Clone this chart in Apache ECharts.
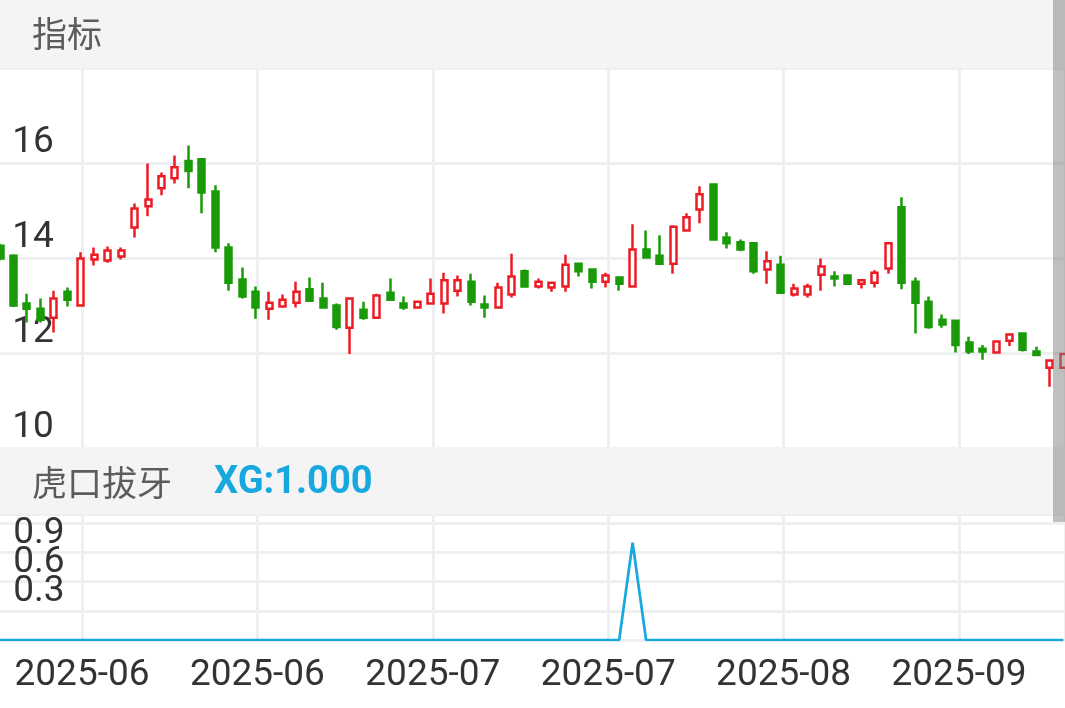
<!DOCTYPE html>
<html><head><meta charset="utf-8">
<script src="https://cdn.jsdelivr.net/npm/echarts@6/dist/echarts.min.js"></script>
<style>html,body{margin:0;padding:0;background:#fff}#c{width:1065px;height:708px}</style>
</head><body><div id="c"></div>
<script>
const openPrices = [14.26,14.05,13.04,12.93,12.74,13.29,13.00,13.97,13.95,14.03,
  14.64,15.09,15.47,15.68,16.04,16.08,15.40,14.22,13.55,13.29,
  12.93,12.98,13.06,13.34,13.15,13.00,12.53,12.91,12.74,13.27,
  13.04,12.96,13.04,13.04,13.31,13.50,13.02,12.96,13.23,13.72,
  13.40,13.38,13.40,13.88,13.76,13.50,13.59,13.40,14.18,14.05,
  13.88,14.58,15.02,15.55,14.43,14.33,14.31,13.76,13.86,13.23,
  13.23,13.65,13.61,13.63,13.46,13.48,13.78,15.07,13.50,13.08,
  12.70,12.68,12.22,12.09,12.01,12.26,12.41,12.03,11.69,11.69];
const closePrices = [13.99,13.00,12.93,12.70,13.15,13.12,13.99,14.07,14.16,14.16,
  15.04,15.23,15.72,15.91,15.83,15.38,14.22,13.48,13.19,12.96,
  13.06,13.12,13.29,13.10,12.96,12.55,13.15,12.74,13.21,13.12,
  12.96,13.08,13.25,13.53,13.53,13.08,12.96,13.38,13.61,13.40,
  13.50,13.48,13.86,13.72,13.50,13.63,13.46,14.18,14.01,13.88,
  14.66,14.86,15.34,14.39,14.31,14.18,13.72,13.93,13.27,13.36,
  13.40,13.82,13.57,13.46,13.53,13.69,14.31,13.48,13.06,12.55,
  12.60,12.17,12.03,12.03,12.24,12.39,12.07,11.96,11.84,11.98];
const lowPrices = [13.95,12.97,12.64,12.64,12.43,12.98,13.00,13.84,13.90,13.97,
  14.43,14.88,15.32,15.57,15.47,14.94,14.12,13.31,13.15,12.72,
  12.70,12.98,12.96,13.08,12.96,12.49,11.98,12.70,12.74,13.10,
  12.91,12.93,13.04,12.83,13.19,13.00,12.74,12.93,13.17,13.38,
  13.36,13.29,13.29,13.61,13.36,13.38,13.31,13.40,14.01,13.88,
  13.67,14.56,14.73,14.39,14.20,14.14,13.67,13.46,13.27,13.19,
  13.17,13.31,13.40,13.46,13.36,13.38,13.67,13.34,12.41,12.51,
  12.53,12.01,11.98,11.86,12.01,12.15,12.03,11.94,11.29,11.69];
const highPrices = [14.30,14.08,13.25,13.15,13.31,13.38,14.12,14.22,14.24,14.22,
  15.15,15.99,15.80,16.16,16.37,16.08,15.53,14.31,13.80,13.40,
  13.29,13.23,13.50,13.59,13.48,13.04,13.15,13.08,13.25,13.57,
  13.19,13.10,13.57,13.69,13.63,13.67,13.21,13.48,14.09,13.76,
  13.57,13.50,14.07,13.88,13.78,13.69,13.59,14.71,14.58,14.48,
  14.69,14.94,15.51,15.55,14.54,14.39,14.31,14.14,14.05,13.46,
  13.46,13.99,13.72,13.65,13.53,13.74,14.31,15.28,13.59,13.19,
  12.81,12.68,12.34,12.17,12.24,12.39,12.41,12.13,11.84,11.98];
const xgValues = [0,0,0,0,0,0,0,0,0,0, 0,0,0,0,0,0,0,0,0,0,
  0,0,0,0,0,0,0,0,0,0, 0,0,0,0,0,0,0,0,0,0,
  0,0,0,0,0,0,0,1,0,0, 0,0,0,0,0,0,0,0,0,0,
  0,0,0,0,0,0,0,0,0,0, 0,0,0,0,0,0,0,0,0,0];
const xTickLabels = ['2025-06','2025-06','2025-07','2025-07','2025-08','2025-09'];
const mainTitle = '指标';
const subTitle = '虎口拔牙';
const xgLabel = 'XG:1.000';

const RED = '#ec1c24', GREEN = '#1a9a08', BLUE = '#17a8e0', GRIDC = '#eeeff1';
const N = openPrices.length;
const categories = openPrices.map((_, i) => String(i));
const kData = openPrices.map((o, i) => [o, closePrices[i], lowPrices[i], highPrices[i]]);
const STEP = 13.46;
const gLeft = -STEP / 2, gWidth = STEP * N;
const COL = 175.4;
const colLeft = 82, colWidth = 1065 - colLeft;
const lab = { fontFamily: 'Roboto', fontSize: 37, color: '#333' };
const split = { show: true, lineStyle: { color: GRIDC, width: 3 } };

const chart = echarts.init(document.getElementById('c'));
chart.setOption({
  animation: false,
  backgroundColor: '#fff',
  grid: [
    { left: gLeft, width: gWidth, top: 68, height: 380, outerBoundsMode: 'none', containLabel: false },
    { left: gLeft, width: gWidth, top: 514, height: 126, outerBoundsMode: 'none', containLabel: false },
    { left: colLeft, width: colWidth, top: 68, height: 380, outerBoundsMode: 'none', containLabel: false },
    { left: colLeft, width: colWidth, top: 514, height: 126, outerBoundsMode: 'none', containLabel: false }
  ],
  xAxis: [
    { type: 'category', gridIndex: 0, data: categories, boundaryGap: true, show: false },
    { type: 'category', gridIndex: 1, data: categories, boundaryGap: true, show: false },
    { type: 'value', gridIndex: 2, min: 0, max: colWidth / COL, interval: 1, axisLine: { show: false }, axisTick: { show: false }, axisLabel: { show: false }, splitLine: split },
    { type: 'value', gridIndex: 3, min: 0, max: colWidth / COL, interval: 1, axisLine: { show: false }, axisTick: { show: false }, splitLine: split,
      axisLabel: Object.assign({ show: true, margin: 17, formatter: v => (Math.abs(v - Math.round(v)) < 1e-6 ? (xTickLabels[Math.round(v)] || '') : '') }, lab) }
  ],
  yAxis: [
    { type: 'value', gridIndex: 0, min: 10, max: 18, interval: 2, axisLine: { show: false }, axisTick: { show: false }, splitLine: split,
      axisLabel: Object.assign({ inside: true, margin: 19, verticalAlign: 'bottom', lineHeight: 41,
        formatter: v => (v >= 18 ? '' : String(v)) }, lab) },
    { type: 'value', gridIndex: 1, min: 0, max: 1.295, interval: 0.3, axisLine: { show: false }, axisTick: { show: false }, splitLine: split,
      axisLabel: Object.assign({ inside: true, margin: 20, verticalAlign: 'bottom', lineHeight: 38,
        formatter: v => { const r = Math.round(v * 10) / 10; return (r > 0.05 && r < 1.0 && Math.abs(r - v) < 1e-6) ? r.toFixed(1) : ''; } }, lab) },
    { type: 'value', gridIndex: 2, show: false },
    { type: 'value', gridIndex: 3, show: false }
  ],
  series: [
    { type: 'candlestick', xAxisIndex: 0, yAxisIndex: 0, data: kData, barWidth: 6.5,
      itemStyle: { color: '#ffffff', color0: GREEN, borderColor: RED, borderColor0: GREEN, borderWidth: 2.5 } },
    { type: 'line', xAxisIndex: 1, yAxisIndex: 1, data: xgValues, symbol: 'none', showSymbol: false,
      lineStyle: { color: BLUE, width: 2.7 } }
  ],
  graphic: [
    { type: 'rect', z: 100, shape: { x: 0, y: 0, width: 1065, height: 68 }, style: { fill: '#f4f4f4' } },
    { type: 'rect', z: 100, shape: { x: 0, y: 447, width: 1065, height: 67 }, style: { fill: '#f4f4f4' } },
    { type: 'text', z: 101, x: 32, y: 34, style: { text: mainTitle, font: '35px "Noto Sans CJK SC"', fill: '#5c5c5c', verticalAlign: 'middle' } },
    { type: 'text', z: 101, x: 32, y: 483, style: { text: subTitle, font: '35px "Noto Sans CJK SC"', fill: '#5c5c5c', verticalAlign: 'middle' } },
    { type: 'text', z: 101, x: 214, y: 483, style: { text: xgLabel, font: 'bold 38px Roboto', fill: BLUE, verticalAlign: 'middle' } },
    { type: 'rect', z: 200, shape: { x: 1053, y: 0, width: 12, height: 522 }, style: { fill: 'rgba(128,128,128,0.5)' } }
  ]
});
</script></body></html>
